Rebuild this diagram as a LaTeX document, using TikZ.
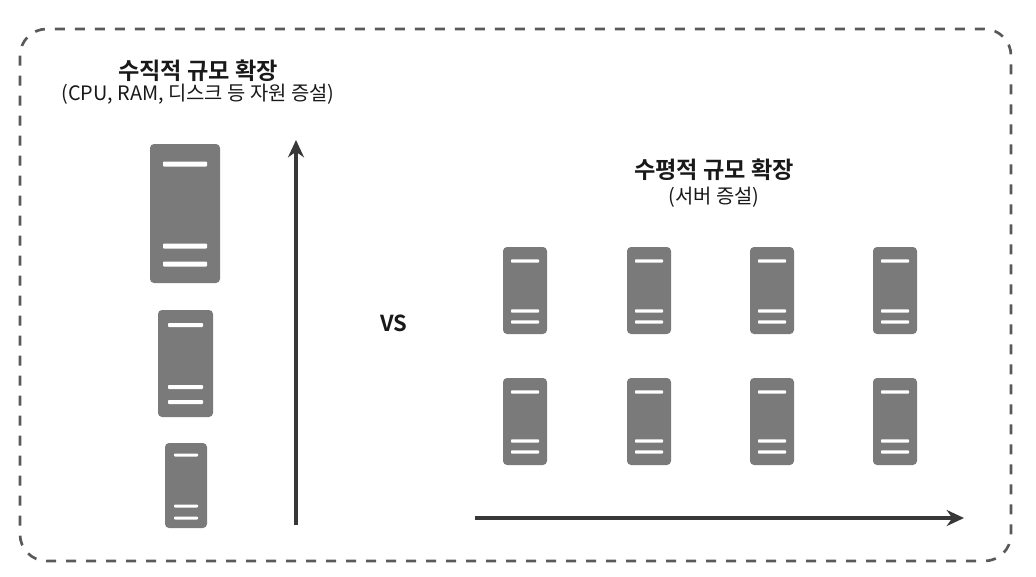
\documentclass[tikz,border=0pt]{standalone}
\usepackage{fontspec}
\usetikzlibrary{arrows.meta}
\newfontfamily\kr{Noto Sans CJK KR}
\newfontfamily\krb{Noto Sans CJK KR Bold}
\tikzset{
  x=0.75pt,y=-0.75pt,
  frameline/.style={draw=black!65,line width=2pt,dash pattern=on 7.5pt off 7.5pt,rounded corners=20pt},
  body/.style={fill=black!52,rounded corners=3pt},
  slot/.style={fill=white,rounded corners=0.6pt},
  title/.style={font=\krb\fontsize{17.4}{20}\selectfont,text=black!90,inner sep=0pt},
  subtitle/.style={font=\kr\fontsize{14.9}{18}\selectfont,text=black!90,inner sep=0pt},
  axis/.style={draw=black!78,line width=2.8pt,-{Stealth[length=13pt,width=12pt]}}
}
% #1 left, #2 top, #3 right, #4 bottom, #5 slot inset, #6,#7,#8 slot centre rows, #9 slot thickness
\newcommand{\serverbox}[9]{
  \path[body] (#1,#2) rectangle (#3,#4);
  \foreach \yy in {#6,#7,#8}{
    \path[slot] (#1+#5,\yy-#9/2) rectangle (#3-#5,\yy+#9/2);
  }
}
\begin{document}
\begin{tikzpicture}
\useasboundingbox (0,0) rectangle (1036,576);
\draw[frameline] (20,29) rectangle (1011,561);

\node[title] (vt) at (198,71) {수직적 규모 확장};
\node[subtitle] (vs) at (198,94) {(CPU, RAM, 디스크 등 자원 증설)};
\node[title] (ht) at (714,170) {수평적 규모 확장};
\node[subtitle] (hs) at (714,197) {(서버 증설)};
\node[font=\krb\fontsize{16.5}{18}\selectfont,text=black!90,inner sep=0pt] (versus) at (394,323) {VS};

\serverbox{150}{144}{220}{283}{13}{164}{246}{264}{5}
\serverbox{158}{310}{213}{417}{10}{325}{387}{402}{4}
\serverbox{165}{443}{207}{528}{9}{455}{506}{518}{3}

\foreach \xx in {503,627,750,873}{
  \serverbox{\xx}{247}{\xx+44}{334}{8}{261}{311}{322}{3.2}
  \serverbox{\xx}{378}{\xx+44}{465}{8}{392}{441}{452}{3.2}
}

\coordinate (vs0) at (296,525);
\coordinate (vs1) at (296,140);
\coordinate (hs0) at (475,518);
\coordinate (hs1) at (964,518);
\draw[axis] (vs0) -- (vs1);
\draw[axis] (hs0) -- (hs1);
\end{tikzpicture}
\end{document}
